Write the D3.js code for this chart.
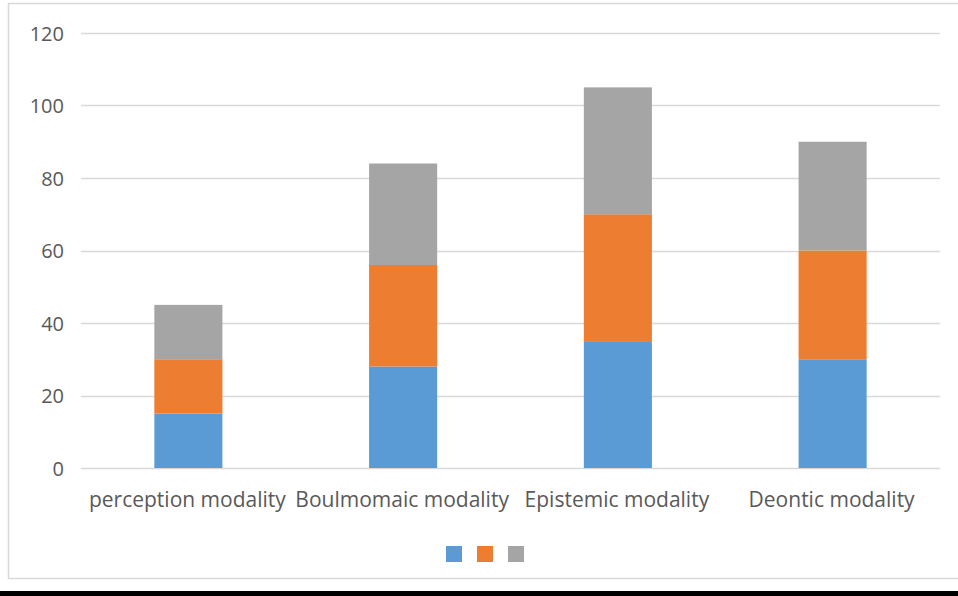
<!DOCTYPE html>
<html>
<head>
<meta charset="utf-8">
<script src="https://cdn.jsdelivr.net/npm/d3@7"></script>
<style>
  html, body { margin: 0; padding: 0; background: #fff; }
  svg { display: block; }
</style>
</head>
<body>
<svg id="chart" width="958" height="596"></svg>
<script>
const categories = ["perception modality", "Boulmomaic modality", "Epistemic modality", "Deontic modality"];
const series1 = [15, 28, 35, 30];
const series2 = [15, 28, 35, 30];
const series3 = [15, 28, 35, 30];
const seriesNames = ["Series1", "Series2", "Series3"];
const colors = ["#5B9BD5", "#ED7D31", "#A5A5A5"];
const yTicks = [0, 20, 40, 60, 80, 100, 120];

const svg = d3.select("#chart");
const W = 958, H = 596;
const margin = { left: 81, right: 18, top: 33, bottom: 128 };
const x0 = margin.left, x1 = W - margin.right;
const yTop = margin.top, yBot = H - margin.bottom;

// background & outer border
svg.append("rect").attr("x", 0).attr("y", 0).attr("width", W).attr("height", H).attr("fill", "#fff");
svg.append("rect").attr("x", 8.5).attr("y", 3.5).attr("width", W).attr("height", 575)
  .attr("fill", "none").attr("stroke", "#D9D9D9").attr("stroke-width", 1.5);
// black bar at bottom
svg.append("rect").attr("x", 0).attr("y", 591).attr("width", W).attr("height", 5).attr("fill", "#000");

const x = d3.scaleBand().domain(categories).range([x0, x1]).paddingInner(0.683).paddingOuter(0.3415);
const y = d3.scaleLinear().domain([0, 120]).range([yBot, yTop]);

// gridlines
svg.append("g").selectAll("line").data(yTicks).join("line")
  .attr("x1", x0).attr("x2", x1)
  .attr("y1", d => Math.round(y(d)) + 0.5).attr("y2", d => Math.round(y(d)) + 0.5)
  .attr("stroke", "#D9D9D9").attr("stroke-width", 1.5);

// y tick labels
svg.append("g").selectAll("text").data(yTicks).join("text")
  .attr("x", 64).attr("y", d => y(d))
  .attr("text-anchor", "end").attr("dominant-baseline", "central")
  .attr("font-family", "'Open Sans', sans-serif").attr("font-size", 20).attr("fill", "#595959")
  .text(d => d);

// stack
const rows = categories.map((c, i) => ({ cat: c, s0: series1[i], s1: series2[i], s2: series3[i] }));
const stack = d3.stack().keys(["s0", "s1", "s2"])(rows);

svg.append("g").selectAll("g").data(stack).join("g")
  .attr("fill", (d, i) => colors[i])
  .selectAll("rect").data(d => d).join("rect")
  .attr("x", d => x(d.data.cat))
  .attr("width", x.bandwidth())
  .attr("y", d => y(d[1]))
  .attr("height", d => y(d[0]) - y(d[1]));

// category labels
svg.append("g").selectAll("text").data(categories).join("text")
  .attr("x", d => x(d) + x.bandwidth() / 2 - 1)
  .attr("y", 499)
  .attr("text-anchor", "middle").attr("dominant-baseline", "central")
  .attr("font-family", "'Open Sans', sans-serif").attr("font-size", 21).attr("fill", "#595959")
  .text(d => d);

// legend
const lg = svg.append("g");
seriesNames.forEach((n, i) => {
  lg.append("rect").attr("x", 446 + i * 31).attr("y", 546).attr("width", 16).attr("height", 16)
    .attr("fill", colors[i]);
});
</script>
</body>
</html>
